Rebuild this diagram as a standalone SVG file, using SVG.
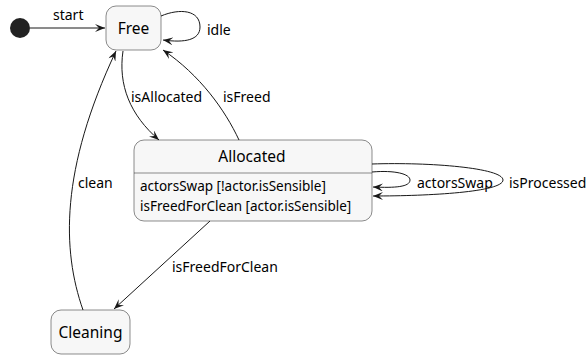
<svg xmlns="http://www.w3.org/2000/svg" width="587" height="358" viewBox="0 0 587 358">
  <style>
    .state { fill: #F7F7F7; stroke: #181818; stroke-width: 0.5; }
    .title { font-family: "Noto Sans", "DejaVu Sans", sans-serif; font-size: 15.5px; fill: #000; text-anchor: middle; }
    .body { font-family: "Noto Sans", "DejaVu Sans", sans-serif; font-size: 13.5px; fill: #000; }
    .lbl { font-family: "Noto Sans", "DejaVu Sans", sans-serif; font-size: 14px; fill: #000; }
    .edge { fill: none; stroke: #181818; stroke-width: 1; marker-end: url(#arrow); }
  </style>
  <defs>
    <marker id="arrow" viewBox="0 0 10 8" refX="10" refY="4" markerWidth="10" markerHeight="8" markerUnits="userSpaceOnUse" orient="auto">
      <path d="M0,0 L10,4 L0,8 L4,4 Z" fill="#181818"/>
    </marker>
  </defs>

  <g id="start-node">
    <circle cx="20" cy="28" r="10" fill="#222222"/>
  </g>

  <g id="free">
    <rect class="state" x="106" y="6" width="55" height="44" rx="10" ry="10"/>
    <text class="title" x="133.5" y="34">Free</text>
  </g>

  <g id="allocated">
    <rect class="state" x="134" y="140" width="238" height="81" rx="10" ry="10"/>
    <line x1="134" y1="173" x2="372" y2="173" stroke="#181818" stroke-width="0.5"/>
    <text class="title" x="252" y="162">Allocated</text>
    <text class="body" x="140" y="191">actorsSwap [!actor.isSensible]</text>
    <text class="body" x="140" y="211">isFreedForClean [actor.isSensible]</text>
  </g>

  <g id="cleaning">
    <rect class="state" x="51" y="310" width="79" height="44" rx="10" ry="10"/>
    <text class="title" x="90.5" y="338">Cleaning</text>
  </g>

  <g id="connectors">
    <path class="edge" d="M30,28 L105,28"/>
    <text class="lbl" x="53" y="20">start</text>

    <path class="edge" d="M161,16 C180,8 200,10 200,27 C200,40 185,43 163,40"/>
    <text class="lbl" x="207" y="35">idle</text>

    <path class="edge" d="M123,51 C118,85 130,115 159,140"/>
    <text class="lbl" x="131" y="102">isAllocated</text>

    <path class="edge" d="M239,140 C225,110 200,75 163,50"/>
    <text class="lbl" x="223" y="102">isFreed</text>

    <path class="edge" d="M83,310 C62,250 60,170 116,51"/>
    <text class="lbl" x="78" y="188">clean</text>

    <path class="edge" d="M210,221 L114,309"/>
    <text class="lbl" x="172" y="272">isFreedForClean</text>

    <path class="edge" d="M372,172 C395,170 410,174 410,180 C410,187 395,188 373,187"/>
    <text class="lbl" x="417" y="188">actorsSwap</text>

    <path class="edge" d="M372,164 C430,162 503,168 503,180 C503,192 430,196 373,196"/>
    <text class="lbl" x="509" y="188">isProcessed</text>
  </g>
</svg>
